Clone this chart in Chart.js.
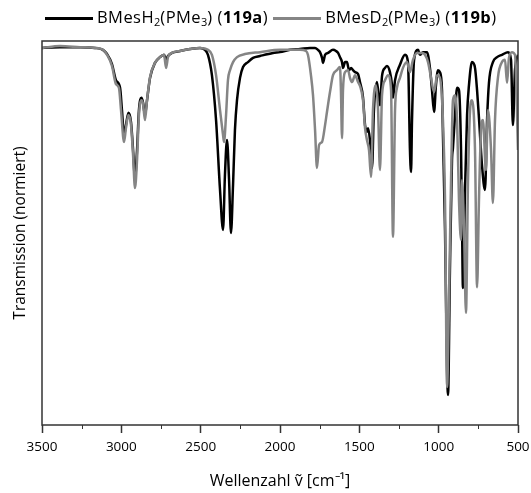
<!DOCTYPE html>
<html>
<head>
<meta charset="utf-8">
<script src="https://cdn.jsdelivr.net/npm/chart.js@4"></script>
<style>
  body { margin: 0; background: #fff; }
  #wrap { position: relative; width: 531px; height: 493px; }
  #legend {
    position: absolute; left: 45px; top: 5px;
    font-family: "Open Sans", sans-serif; font-size: 16.5px; color: #000;
    letter-spacing: 0.45px; white-space: nowrap; line-height: 24px;
  }
  #legend sub { font-size: 11px; vertical-align: -3px; line-height: 0; letter-spacing: 0; }
  #legend .sw { display: inline-block; width: 48px; height: 3px; vertical-align: middle; margin-right: 4px; }
  #legend b { font-weight: 700; }
</style>
</head>
<body>
<div id="wrap">
  <canvas id="myChart" width="531" height="493"></canvas>
  <div id="legend"><span class="sw" style="background:#000"></span>BMesH<sub>2</sub>(PMe<sub>3</sub>) (<b>119a</b>)<span class="sw" style="background:#858585;margin-left:5px"></span>BMesD<sub>2</sub>(PMe<sub>3</sub>) (<b>119b</b>)</div>
</div>
<script>
// BMesH2(PMe3) (119a) - wavenumber [cm-1] / transmission (normalised, %)
const waveH = [3500, 3387, 3260, 3166, 3116, 3090, 3059, 3034, 3008, 2996, 2983, 2971, 2955, 2939, 2926, 2914, 2901, 2889, 2873, 2863, 2851, 2838, 2819, 2788, 2756, 2731, 2718, 2706, 2681, 2630, 2567, 2504, 2473, 2454, 2429, 2403, 2378, 2359, 2347, 2334, 2321, 2309, 2296, 2284, 2271, 2252, 2233, 2202, 2170, 2126, 2044, 2000, 1937, 1874, 1811, 1779, 1761, 1748, 1735, 1729, 1716, 1697, 1666, 1647, 1634, 1622, 1609, 1603, 1590, 1578, 1565, 1552, 1540, 1527, 1508, 1496, 1477, 1464, 1452, 1445, 1433, 1420, 1408, 1389, 1370, 1357, 1338, 1326, 1307, 1294, 1288, 1275, 1244, 1212, 1193, 1181, 1174, 1168, 1155, 1130, 1118, 1099, 1074, 1055, 1042, 1029, 1017, 1004, 992, 979, 973, 960, 947, 941, 929, 916, 910, 897, 884, 872, 859, 853, 847, 834, 821, 809, 790, 771, 758, 746, 727, 708, 695, 683, 658, 632, 601, 563, 544, 532, 519, 500];
const transH = [98.2, 98.4, 98.4, 98.2, 97.7, 96.6, 94.0, 89.8, 87.8, 82.0, 75.5, 78.1, 81.3, 78.9, 71.6, 64.3, 71.6, 82.0, 85.2, 83.9, 80.7, 84.6, 90.4, 94.3, 95.8, 96.4, 95.1, 96.1, 96.9, 97.4, 97.9, 98.2, 97.7, 96.4, 91.1, 79.4, 61.2, 50.8, 65.1, 74.2, 63.8, 50.0, 62.5, 76.8, 84.6, 90.4, 93.2, 94.5, 95.6, 96.1, 96.9, 97.1, 97.7, 97.9, 98.2, 98.2, 97.7, 97.1, 95.6, 94.3, 96.4, 96.9, 97.7, 97.4, 96.9, 95.8, 94.5, 93.0, 94.5, 94.5, 92.4, 93.0, 92.4, 91.9, 91.4, 89.3, 85.4, 78.1, 76.3, 77.3, 74.2, 66.9, 82.0, 89.3, 83.3, 90.9, 93.0, 93.5, 91.9, 88.5, 85.2, 89.8, 93.8, 96.4, 94.3, 71.6, 65.9, 79.4, 95.1, 97.7, 96.4, 97.1, 97.1, 93.0, 87.2, 81.5, 88.5, 92.4, 91.9, 87.2, 75.5, 50.8, 14.3, 7.8, 40.4, 69.0, 72.1, 80.7, 87.8, 87.2, 71.6, 53.4, 35.7, 61.2, 80.7, 88.5, 94.5, 93.0, 87.2, 79.9, 67.7, 61.2, 79.4, 89.1, 94.5, 95.8, 96.4, 97.1, 95.1, 78.1, 92.4, 96.4];

// BMesD2(PMe3) (119b)
const waveD = [3500, 3387, 3260, 3166, 3116, 3090, 3059, 3034, 3015, 3002, 2983, 2971, 2955, 2939, 2926, 2914, 2901, 2889, 2873, 2863, 2851, 2838, 2819, 2788, 2756, 2731, 2718, 2706, 2681, 2630, 2567, 2504, 2454, 2429, 2403, 2378, 2359, 2353, 2340, 2328, 2315, 2296, 2271, 2221, 2126, 2000, 1937, 1874, 1836, 1824, 1805, 1792, 1779, 1767, 1754, 1735, 1716, 1704, 1685, 1666, 1641, 1622, 1616, 1609, 1603, 1590, 1571, 1559, 1546, 1527, 1508, 1496, 1477, 1464, 1452, 1439, 1426, 1414, 1395, 1382, 1370, 1357, 1338, 1319, 1300, 1288, 1275, 1263, 1244, 1225, 1200, 1181, 1162, 1137, 1105, 1086, 1067, 1048, 1029, 1010, 992, 973, 960, 947, 935, 922, 910, 897, 884, 872, 859, 853, 840, 828, 815, 802, 790, 771, 758, 746, 733, 721, 702, 689, 670, 658, 645, 626, 601, 582, 569, 557, 538, 519, 500];
const transD = [98.2, 98.7, 98.4, 98.2, 97.7, 96.4, 93.5, 88.8, 87.8, 82.0, 73.7, 77.3, 80.7, 78.1, 70.3, 61.7, 69.0, 80.7, 84.6, 83.6, 79.4, 84.6, 90.6, 94.3, 95.8, 96.4, 93.0, 95.8, 96.9, 97.4, 97.9, 98.2, 97.7, 96.4, 91.1, 82.0, 75.5, 73.7, 80.7, 89.8, 92.4, 94.5, 95.8, 96.6, 97.1, 97.7, 97.7, 97.7, 97.4, 96.4, 91.1, 85.9, 76.8, 66.9, 72.9, 73.7, 78.1, 81.5, 86.7, 91.1, 92.4, 93.2, 87.2, 74.7, 87.2, 91.9, 92.4, 90.4, 89.3, 91.1, 89.3, 88.3, 84.6, 77.3, 74.2, 71.6, 64.6, 82.0, 88.5, 82.0, 66.4, 85.9, 89.8, 91.1, 87.2, 49.0, 82.0, 87.8, 90.4, 93.0, 94.5, 91.9, 95.1, 96.9, 96.9, 96.4, 94.5, 90.4, 86.7, 91.1, 90.4, 79.4, 58.6, 9.9, 32.6, 63.8, 84.6, 85.9, 79.4, 58.6, 48.2, 63.8, 50.8, 29.2, 63.8, 82.0, 84.6, 71.6, 35.9, 58.6, 76.8, 79.4, 66.4, 82.0, 71.6, 57.8, 79.4, 90.6, 94.5, 95.1, 89.1, 95.6, 97.1, 96.4, 71.6];

const xTicks = [3500, 3000, 2500, 2000, 1500, 1000, 500];
const xMinorTicks = [3250, 2750, 2250, 1750, 1250, 750];

const toPoints = (xs, ys) => xs.map((x, i) => ({ x: x, y: ys[i] }));

const frameColor = "#333";

const framePlugin = {
  id: "frame",
  afterDraw(chart) {
    const { ctx, chartArea: a, scales } = chart;
    ctx.save();
    ctx.strokeStyle = frameColor;
    ctx.lineWidth = 1.5;
    ctx.strokeRect(a.left, a.top, a.right - a.left, a.bottom - a.top);
    // minor ticks
    ctx.lineWidth = 1;
    xMinorTicks.forEach((v) => {
      const px = Math.round(scales.x.getPixelForValue(v)) + 0.5;
      ctx.beginPath();
      ctx.moveTo(px, a.bottom);
      ctx.lineTo(px, a.bottom + 4);
      ctx.stroke();
    });
    ctx.restore();
  },
};

new Chart(document.getElementById("myChart"), {
  type: "line",
  data: {
    datasets: [
      {
        label: "BMesH2(PMe3) (119a)",
        data: toPoints(waveH, transH),
        borderColor: "#000",
        borderWidth: 2.5,
        pointRadius: 0,
        cubicInterpolationMode: "monotone",
        order: 2,
      },
      {
        label: "BMesD2(PMe3) (119b)",
        data: toPoints(waveD, transD),
        borderColor: "#858585",
        borderWidth: 2.5,
        pointRadius: 0,
        cubicInterpolationMode: "monotone",
        order: 1,
      },
    ],
  },
  options: {
    responsive: false,
    animation: false,
    layout: { padding: { top: 41, right: 13, left: 11, bottom: 0 } },
    plugins: { legend: { display: false }, tooltip: { enabled: false } },
    scales: {
      x: {
        type: "linear",
        reverse: true,
        min: 500,
        max: 3500,
        afterBuildTicks: (s) => {
          s.ticks = xTicks.map((v) => ({ value: v }));
        },
        afterFit: (s) => {
          s.height = 68;
          s.paddingLeft = 0;
          s.paddingRight = 0;
        },
        ticks: {
          color: "#000",
          padding: 6,
          maxRotation: 0,
          font: { family: "Open Sans", size: 13.5 },
          callback: (v) => String(v),
        },
        grid: {
          drawOnChartArea: false,
          drawTicks: true,
          tickLength: 8,
          tickColor: frameColor,
          tickWidth: 1.5,
        },
        border: { display: false },
        title: {
          display: true,
          text: "Wellenzahl ṽ [cm⁻¹]",
          color: "#000",
          font: { family: "Open Sans", size: 16 },
          padding: { top: 0, bottom: 2 },
        },
      },
      y: {
        min: 0,
        max: 100,
        afterFit: (s) => {
          s.width = 31;
        },
        ticks: { display: false },
        grid: { display: false },
        border: { display: false },
        title: {
          display: true,
          text: "Transmission (normiert)",
          color: "#000",
          font: { family: "Open Sans", size: 15.5 },
          padding: 0,
        },
      },
    },
  },
  plugins: [framePlugin],
});
</script>
</body>
</html>
